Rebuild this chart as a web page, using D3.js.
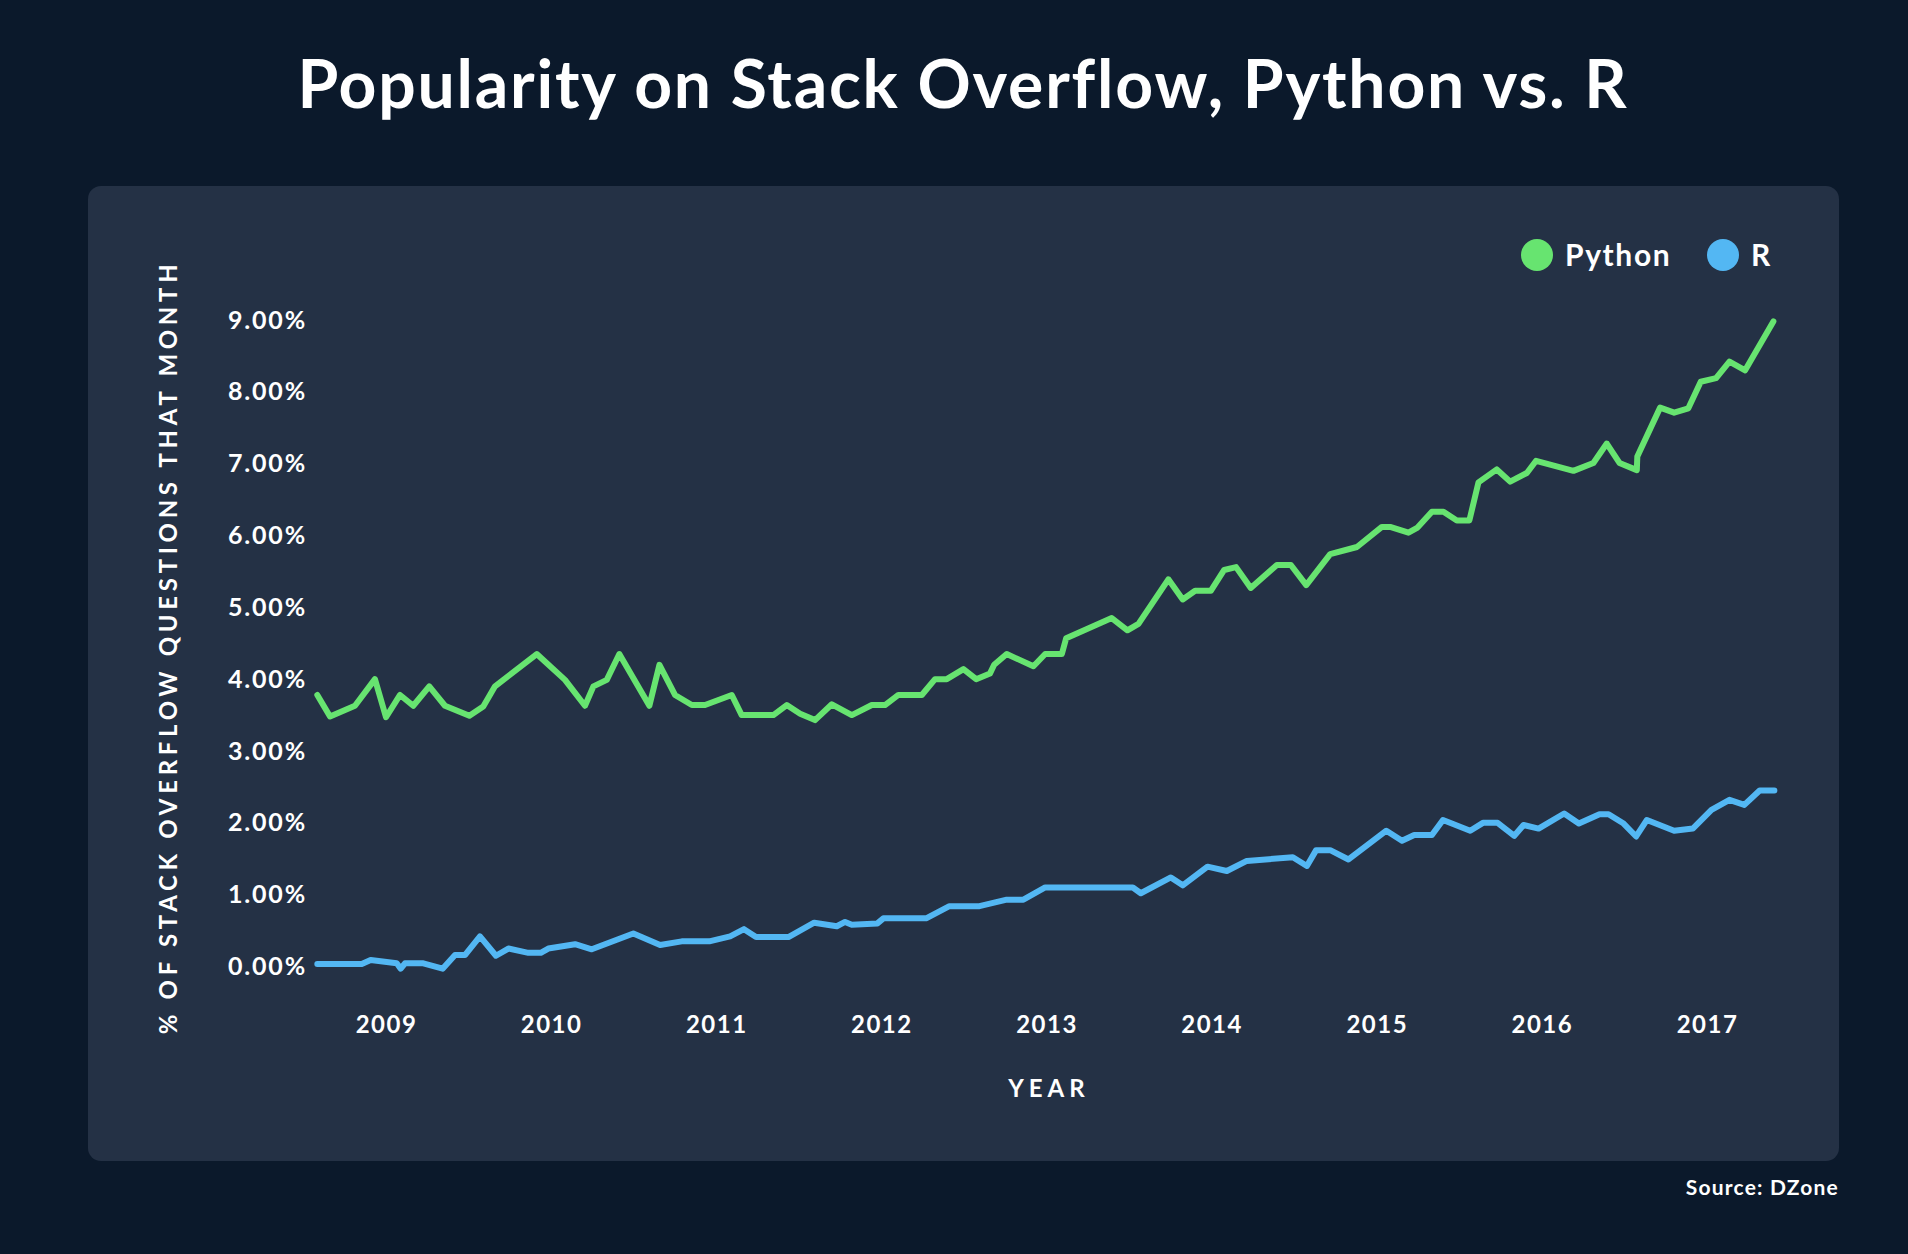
<!DOCTYPE html>
<html>
<head>
<meta charset="utf-8">
<script src="https://cdnjs.cloudflare.com/ajax/libs/d3/7.8.5/d3.min.js"></script>
<style>
body{margin:0;background:#0b192b;overflow:hidden;}
text{font-family:Lato,"Noto Sans",sans-serif;fill:#ffffff;font-weight:700;}
</style>
</head>
<body>
<script>
// vertices (decimal year, % of questions)
var pythonYears = [2008.584, 2008.661, 2008.812, 2008.933, 2009.000, 2009.085, 2009.165, 2009.262, 2009.357, 2009.505,
	2009.589, 2009.660, 2009.913, 2010.084, 2010.205, 2010.256, 2010.337, 2010.413, 2010.595, 2010.656,
	2010.750, 2010.852, 2010.932, 2011.094, 2011.154, 2011.346, 2011.427, 2011.508, 2011.598, 2011.700,
	2011.821, 2011.942, 2012.022, 2012.103, 2012.245, 2012.325, 2012.396, 2012.497, 2012.574, 2012.658,
	2012.683, 2012.759, 2012.921, 2012.992, 2013.093, 2013.119, 2013.395, 2013.490, 2013.557, 2013.738,
	2013.825, 2013.900, 2013.995, 2014.076, 2014.148, 2014.237, 2014.395, 2014.480, 2014.573, 2014.718,
	2014.880, 2015.031, 2015.081, 2015.192, 2015.247, 2015.334, 2015.404, 2015.485, 2015.561, 2015.616,
	2015.727, 2015.808, 2015.909, 2015.965, 2016.191, 2016.312, 2016.393, 2016.470, 2016.575, 2016.578,
	2016.716, 2016.801, 2016.887, 2016.962, 2017.055, 2017.136, 2017.231, 2017.402];
var pythonValues = [3.78, 3.48, 3.63, 4.00, 3.47, 3.78, 3.63, 3.90, 3.63, 3.49,
	3.62, 3.90, 4.35, 3.99, 3.63, 3.90, 3.99, 4.35, 3.63, 4.20,
	3.78, 3.64, 3.64, 3.78, 3.50, 3.50, 3.64, 3.52, 3.43, 3.65,
	3.50, 3.64, 3.64, 3.78, 3.78, 4.00, 4.00, 4.14, 4.00, 4.08,
	4.20, 4.35, 4.18, 4.35, 4.35, 4.57, 4.85, 4.68, 4.77, 5.39,
	5.11, 5.23, 5.23, 5.52, 5.56, 5.27, 5.59, 5.59, 5.31, 5.74,
	5.84, 6.12, 6.12, 6.04, 6.11, 6.33, 6.33, 6.21, 6.21, 6.74,
	6.92, 6.75, 6.87, 7.04, 6.90, 7.01, 7.28, 7.01, 6.91, 7.10,
	7.78, 7.71, 7.77, 8.14, 8.19, 8.42, 8.30, 8.98];

var rYears = [2008.584, 2008.853, 2008.907, 2009.065, 2009.089, 2009.115, 2009.226, 2009.343, 2009.418, 2009.478,
	2009.569, 2009.666, 2009.741, 2009.862, 2009.937, 2009.983, 2010.145, 2010.246, 2010.498, 2010.660,
	2010.791, 2010.958, 2011.084, 2011.168, 2011.241, 2011.437, 2011.593, 2011.730, 2011.780, 2011.821,
	2011.976, 2012.012, 2012.271, 2012.412, 2012.594, 2012.759, 2012.860, 2012.992, 2013.523, 2013.571,
	2013.753, 2013.825, 2013.975, 2014.092, 2014.213, 2014.492, 2014.577, 2014.633, 2014.718, 2014.829,
	2015.058, 2015.153, 2015.227, 2015.334, 2015.401, 2015.566, 2015.643, 2015.732, 2015.833, 2015.889,
	2015.980, 2016.135, 2016.224, 2016.349, 2016.404, 2016.495, 2016.571, 2016.636, 2016.801, 2016.914,
	2017.027, 2017.136, 2017.226, 2017.319, 2017.408];
var rValues = [0.035, 0.035, 0.09, 0.045, -0.03, 0.045, 0.045, -0.03, 0.16, 0.16,
	0.42, 0.15, 0.25, 0.19, 0.19, 0.25, 0.31, 0.24, 0.46, 0.30,
	0.35, 0.35, 0.42, 0.52, 0.41, 0.41, 0.61, 0.56, 0.62, 0.58,
	0.60, 0.67, 0.67, 0.84, 0.84, 0.93, 0.93, 1.10, 1.10, 1.02,
	1.24, 1.13, 1.39, 1.33, 1.47, 1.52, 1.40, 1.62, 1.62, 1.49,
	1.89, 1.75, 1.83, 1.83, 2.04, 1.89, 2.00, 2.00, 1.82, 1.97,
	1.92, 2.13, 1.99, 2.12, 2.12, 1.99, 1.81, 2.04, 1.89, 1.92,
	2.18, 2.32, 2.25, 2.45, 2.45];

var yearTicks = [2009, 2010, 2011, 2012, 2013, 2014, 2015, 2016, 2017];
var pctTicks = [0, 1, 2, 3, 4, 5, 6, 7, 8, 9];
var seriesNames = ["Python", "R"];
var seriesColors = ["#67e470", "#53b7f3"];

var width = 1908, height = 1254;

var svg = d3.select("body").append("svg")
	.attr("width", width)
	.attr("height", height);

svg.append("rect")
	.attr("width", width).attr("height", height)
	.attr("fill", "#0b192b");

// panel
svg.append("rect")
	.attr("x", 88).attr("y", 186)
	.attr("width", 1751).attr("height", 975)
	.attr("rx", 13).attr("ry", 13)
	.attr("fill", "#243145");

svg.append("text")
	.attr("x", 963).attr("y", 108)
	.attr("text-anchor", "middle")
	.attr("font-size", 66)
	.attr("font-weight", 900)
	.attr("letter-spacing", 1.8)
	.text("Popularity on Stack Overflow, Python vs. R");

var x = d3.scaleLinear().domain([2009, 2017]).range([386, 1707]);
var y = d3.scaleLinear().domain([0, 9]).range([966.5, 320]);

// y ticks are left aligned in the original
var yAxis = svg.append("g")
	.attr("transform", "translate(228,0)")
	.call(d3.axisRight(y).tickValues(pctTicks).tickSize(0).tickPadding(0)
		.tickFormat(function(d){ return d.toFixed(2) + "%"; }));
yAxis.select(".domain").remove();
yAxis.selectAll("text")
	.attr("font-size", 25)
	.attr("font-family", "Lato")
	.attr("letter-spacing", 1.8)
	.attr("fill", "#fff");

var xAxis = svg.append("g")
	.attr("transform", "translate(0,1016)")
	.call(d3.axisBottom(x).tickValues(yearTicks).tickSize(0).tickPadding(0)
		.tickFormat(d3.format("d")));
xAxis.select(".domain").remove();
xAxis.selectAll("text")
	.attr("font-size", 24)
	.attr("font-family", "Lato")
	.attr("letter-spacing", 1.5)
	.attr("fill", "#fff");

svg.append("text")
	.attr("transform", "translate(167,647) rotate(-90)")
	.attr("text-anchor", "middle")
	.attr("dominant-baseline", "central")
	.attr("font-size", 24)
	.attr("letter-spacing", 4.7)
	.text("% OF STACK OVERFLOW QUESTIONS THAT MONTH");

svg.append("text")
	.attr("x", 1049).attr("y", 1097)
	.attr("text-anchor", "middle")
	.attr("font-size", 24)
	.attr("letter-spacing", 5)
	.text("YEAR");

var line = d3.line()
	.x(function(d){ return x(d[0]); })
	.y(function(d){ return y(d[1]); });

var series = [d3.zip(pythonYears, pythonValues), d3.zip(rYears, rValues)];

svg.selectAll(".series")
	.data(series)
	.enter().append("path")
	.attr("class", "series")
	.attr("d", line)
	.attr("fill", "none")
	.attr("stroke", function(d, i){ return seriesColors[i]; })
	.attr("stroke-width", 6)
	.attr("stroke-linejoin", "round")
	.attr("stroke-linecap", "round");

// legend
var legendX = [1537, 1723];
var legend = svg.selectAll(".legend")
	.data(seriesNames)
	.enter().append("g")
	.attr("class", "legend")
	.attr("transform", function(d, i){ return "translate(" + legendX[i] + ",255)"; });
legend.append("circle")
	.attr("r", 16)
	.attr("fill", function(d, i){ return seriesColors[i]; });
legend.append("text")
	.attr("x", 28).attr("y", 11)
	.attr("font-size", 30)
	.attr("letter-spacing", 1.6)
	.text(function(d){ return d; });

svg.append("text")
	.attr("x", 1839).attr("y", 1195)
	.attr("text-anchor", "end")
	.attr("font-size", 21)
	.attr("letter-spacing", 1.2)
	.text("Source: DZone");
</script>
</body>
</html>
